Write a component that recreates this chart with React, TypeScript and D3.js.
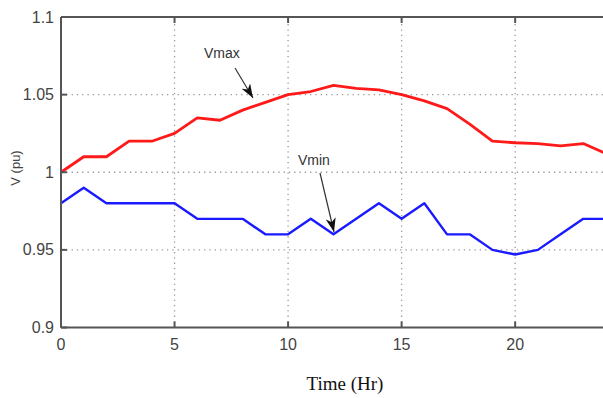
import React, { useEffect, useRef } from 'react';
import * as d3 from 'd3';

const hours = d3.range(0, 25);
const vmax = [1.0, 1.01, 1.01, 1.02, 1.02, 1.025, 1.035, 1.0335, 1.04, 1.045, 1.05, 1.052, 1.056, 1.054, 1.053, 1.05, 1.046, 1.041, 1.031, 1.02, 1.019, 1.0185, 1.017, 1.0185, 1.012];
const vmin = [0.98, 0.99, 0.98, 0.98, 0.98, 0.98, 0.97, 0.97, 0.97, 0.96, 0.96, 0.97, 0.96, 0.97, 0.98, 0.97, 0.98, 0.96, 0.96, 0.95, 0.947, 0.95, 0.96, 0.97, 0.97];
const xTicks = [0, 5, 10, 15, 20];
const yTicks = [0.9, 0.95, 1, 1.05, 1.1];
const yTickLabels = ['0.9', '0.95', '1', '1.05', '1.1'];

const W = 603;
const H = 398;

const App = () => {
    const svgRef = useRef<SVGSVGElement>(null);

    useEffect(() => {
        const svg = d3.select(svgRef.current);
        svg.selectAll('*').remove();

        const x = d3.scaleLinear().domain([0, 24]).range([61, 606]);
        const y = d3.scaleLinear().domain([0.9, 1.1]).range([327.5, 17]);

        svg.append('defs').append('marker')
            .attr('id', 'ah').attr('viewBox', '0 0 14 10')
            .attr('refX', 14).attr('refY', 5)
            .attr('markerWidth', 14).attr('markerHeight', 10)
            .attr('markerUnits', 'userSpaceOnUse')
            .attr('orient', 'auto')
            .append('path').attr('d', 'M0,0 L14,5 L0,10 L4,5 Z').attr('fill', '#111');

        // grid
        const grid = svg.append('g').attr('stroke', '#999').attr('stroke-width', 1.3).attr('stroke-dasharray', '1.3,4');
        xTicks.slice(1).forEach(t => {
            grid.append('line').attr('x1', x(t)).attr('x2', x(t)).attr('y1', y(0.9)).attr('y2', y(1.1));
        });
        yTicks.slice(1, -1).forEach(t => {
            grid.append('line').attr('x1', x(0)).attr('x2', W).attr('y1', y(t)).attr('y2', y(t));
        });

        // lines
        const line = d3.line<number>().x((d, i) => x(hours[i])).y(d => y(d));
        svg.append('path').datum(vmax).attr('d', line).attr('fill', 'none')
            .attr('stroke', '#ff1a1a').attr('stroke-width', 2.8).attr('stroke-linejoin', 'round');
        svg.append('path').datum(vmin).attr('d', line).attr('fill', 'none')
            .attr('stroke', '#1a1aff').attr('stroke-width', 2.4).attr('stroke-linejoin', 'round');

        // axes frame
        const ax = svg.append('g').attr('stroke', '#555').attr('stroke-width', 2);
        ax.append('line').attr('x1', x(0)).attr('x2', W).attr('y1', y(0.9)).attr('y2', y(0.9));
        ax.append('line').attr('x1', x(0)).attr('x2', W).attr('y1', y(1.1)).attr('y2', y(1.1));
        ax.append('line').attr('x1', x(0)).attr('x2', x(0)).attr('y1', y(0.9)).attr('y2', y(1.1));
        xTicks.forEach(t => {
            ax.append('line').attr('x1', x(t)).attr('x2', x(t)).attr('y1', y(0.9)).attr('y2', y(0.9) - 6);
            ax.append('line').attr('x1', x(t)).attr('x2', x(t)).attr('y1', y(1.1)).attr('y2', y(1.1) + 6);
        });
        yTicks.forEach(t => {
            ax.append('line').attr('x1', x(0)).attr('x2', x(0) + 6).attr('y1', y(t)).attr('y2', y(t));
        });

        const tickFont = 'Liberation Sans Narrow, Liberation Sans, Arial, sans-serif';
        svg.append('g').selectAll('text').data(yTicks).join('text')
            .attr('x', x(0) - 7).attr('y', d => y(d)).attr('dy', '0.35em')
            .attr('text-anchor', 'end').attr('font-family', tickFont).attr('font-size', 16)
            .attr('fill', '#444')
            .text((d, i) => yTickLabels[i]);
        svg.append('g').selectAll('text').data(xTicks).join('text')
            .attr('x', d => x(d)).attr('y', y(0.9) + 22)
            .attr('text-anchor', 'middle').attr('font-family', tickFont).attr('font-size', 16)
            .attr('fill', '#444').text(d => String(d));

        svg.append('text').attr('transform', `translate(20,${168}) rotate(-90)`)
            .attr('text-anchor', 'middle').attr('font-family', 'Liberation Sans, Arial, sans-serif').attr('font-size', 13)
            .attr('fill', '#444').text('V (pu)');
        svg.append('text').attr('x', 345).attr('y', 390).attr('text-anchor', 'middle')
            .attr('font-family', 'Liberation Serif, Times New Roman, serif').attr('font-size', 19)
            .attr('fill', '#111').text('Time (Hr)');

        // annotations
        svg.append('text').attr('x', 204).attr('y', 58).attr('font-family', 'Liberation Sans, Arial, sans-serif')
            .attr('font-size', 14).attr('fill', '#333').text('Vmax');
        svg.append('line').attr('x1', 235).attr('y1', 68).attr('x2', 253).attr('y2', 98)
            .attr('stroke', '#333').attr('stroke-width', 1.2).attr('marker-end', 'url(#ah)');
        svg.append('text').attr('x', 298).attr('y', 165).attr('font-family', 'Liberation Sans, Arial, sans-serif')
            .attr('font-size', 14).attr('fill', '#333').text('Vmin');
        svg.append('line').attr('x1', 320).attr('y1', 173).attr('x2', 334).attr('y2', 232)
            .attr('stroke', '#333').attr('stroke-width', 1.2).attr('marker-end', 'url(#ah)');
    }, []);

    return (
        <svg ref={svgRef} width={W} height={H} style={{ position: 'absolute', left: 0, top: 0, background: '#fff' }} />
    );
};

export default App;
